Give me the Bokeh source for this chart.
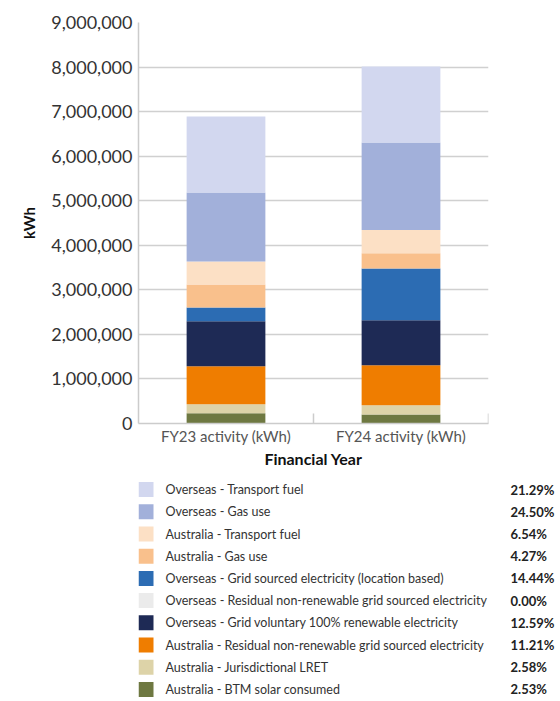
from bokeh.plotting import figure
from bokeh.models import Range1d, FactorRange, NumeralTickFormatter, ColumnDataSource
from bokeh.transform import dodge
from bokeh.layouts import column
from bokeh.embed import file_html
from bokeh.resources import INLINE
from bokeh.core.properties import value

# ---------------- data ----------------
years = ["FY23 activity (kWh)", "FY24 activity (kWh)"]

# stack order: bottom -> top
series = [
    "Australia - BTM solar consumed",
    "Australia - Jurisdictional LRET",
    "Australia - Residual non-renewable grid sourced electricity",
    "Overseas - Grid voluntary 100% renewable electricity",
    "Overseas - Residual non-renewable grid sourced electricity",
    "Overseas - Grid sourced electricity (location based)",
    "Australia - Gas use",
    "Australia - Transport fuel",
    "Overseas - Gas use",
    "Overseas - Transport fuel",
]
fy23 = [231000, 202000, 853000, 1010000, 0, 307000, 517000, 516000, 1548000, 1706000]
fy24 = [203000, 207000, 899000, 1010000, 0, 1158000, 342000, 524000, 1965000, 1707000]
shares = ["2.53%", "2.58%", "11.21%", "12.59%", "0.00%", "14.44%", "4.27%", "6.54%", "24.50%", "21.29%"]
colors = ["#6E7841", "#DDD3A8", "#EF7D00", "#1E2A55", "#EBEBEB",
          "#2C6CB3", "#F9C08C", "#FCE0C5", "#A2B0DA", "#D2D7EF"]

y_ticks = [0, 1000000, 2000000, 3000000, 4000000, 5000000, 6000000, 7000000, 8000000, 9000000]

FONT = "Lato"

# ---------------- layout constants (pixels) ----------------
W = 560
LEFT, FRAME_W = 138, 350
RIGHT = W - LEFT - FRAME_W
TOP, FRAME_H, BOTTOM = 22, 401, 55
LEG_H = 222
N = len(series)

# ---------------- main chart ----------------
keys = ["s%d" % i for i in range(N)]
data = {"year": years}
for k, a, b in zip(keys, fy23, fy24):
    data[k] = [a, b]
src = ColumnDataSource(data)

p = figure(width=W, height=TOP + FRAME_H + BOTTOM, x_range=FactorRange(*years, range_padding=0),
           y_range=Range1d(0, 9000000), output_backend="svg", toolbar_location=None,
           min_border_left=LEFT, min_border_right=RIGHT,
           min_border_top=TOP, min_border_bottom=BOTTOM)
p.outline_line_color = None

p.vbar_stack(keys, x="year", width=0.45, fill_color=colors, line_color=None, source=src)

# category separator ticks
sep = ColumnDataSource(dict(year=years, y=[0, 0]))
p.scatter(x=dodge("year", 0.5, range=p.x_range), y="y", marker="dash", angle=1.5708,
          size=20, line_color="#cccccc", line_width=1.5, source=sep)

p.yaxis.ticker = y_ticks
p.yaxis.formatter = NumeralTickFormatter(format="0,0")
p.yaxis.axis_label = "kWh"
p.xaxis.axis_label = "Financial Year"
for ax in (p.xaxis, p.yaxis):
    ax.axis_line_color = "#cccccc"
    ax.axis_line_width = 1.5
    ax.major_tick_line_color = None
    ax.minor_tick_line_color = None
    ax.major_tick_in = 0
    ax.major_tick_out = 0
    ax.axis_label_text_font = FONT
    ax.major_label_text_font = FONT
    ax.axis_label_text_font_style = "bold"
    ax.axis_label_text_color = "#111111"
p.yaxis.major_label_text_font_size = "18px"
p.yaxis.major_label_text_color = "#333333"
p.yaxis.major_label_standoff = 6
p.yaxis.axis_label_text_font_size = "15px"
p.yaxis.axis_label_standoff = 10
p.xaxis.major_label_text_font_size = "15px"
p.xaxis.major_label_text_color = "#555555"
p.xaxis.major_label_standoff = 3
p.xaxis.axis_label_text_font_size = "16px"
p.xaxis.axis_label_standoff = 1
p.xgrid.grid_line_color = None
p.ygrid.grid_line_color = "#d0d0d0"
p.ygrid.grid_line_width = 1.5

# ---------------- legend (separate figure below) ----------------
# rows are keyed by their share label, which the right-hand axis prints
lsrc = ColumnDataSource(dict(name=series, color=colors, share=shares))
lg = figure(width=W, height=LEG_H, x_range=Range1d(0, FRAME_W),
            y_range=FactorRange(*shares, range_padding=0),
            x_axis_location=None, y_axis_location="right",
            output_backend="svg", toolbar_location=None,
            min_border_left=LEFT, min_border_right=RIGHT, min_border_top=0, min_border_bottom=0)
lg.outline_line_color = None
lg.grid.visible = False
lg.rect(x=7.5, y="share", width=15, height=15, width_units="screen", height_units="screen",
        fill_color="color", line_color=None, source=lsrc)
lg.text(x=27, y="share", text="name", text_baseline="middle", text_font=value(FONT),
        text_font_size="12.5px", text_color="#333333", source=lsrc)
lg.yaxis.axis_line_color = None
lg.yaxis.major_tick_line_color = None
lg.yaxis.minor_tick_line_color = None
lg.yaxis.major_tick_in = 0
lg.yaxis.major_tick_out = 0
lg.yaxis.major_label_standoff = 22
lg.yaxis.major_label_text_font = FONT
lg.yaxis.major_label_text_font_size = "13px"
lg.yaxis.major_label_text_font_style = "bold"
lg.yaxis.major_label_text_color = "#222222"

layout = column(p, lg, spacing=0)
open("out.html", "w").write(file_html(layout, INLINE))
